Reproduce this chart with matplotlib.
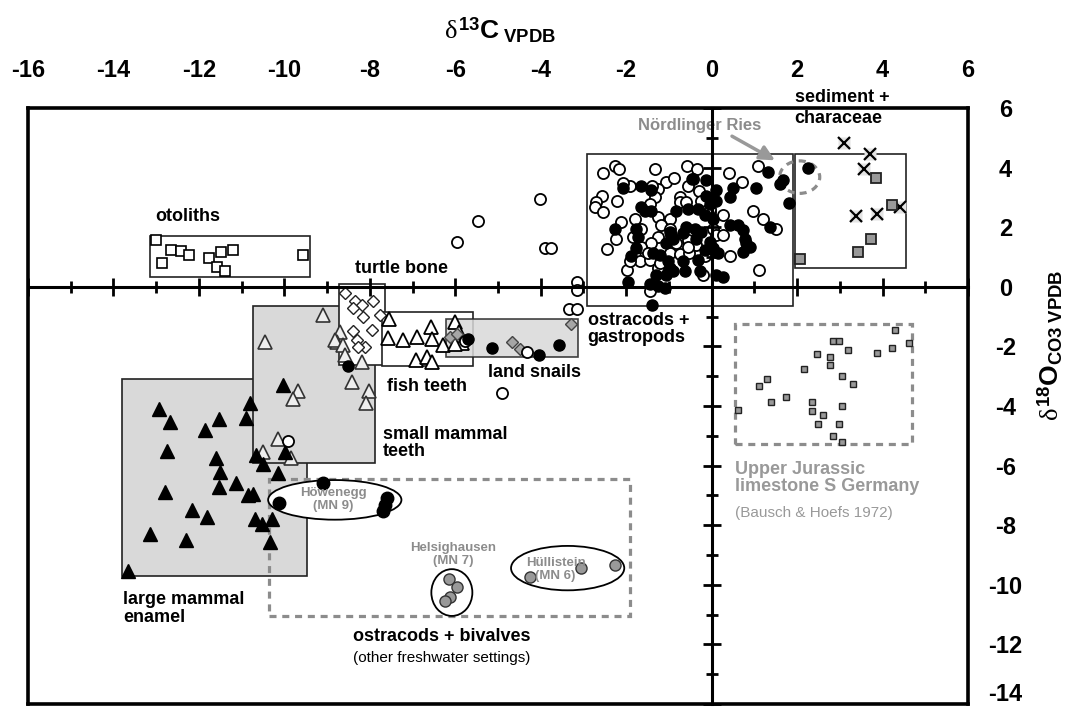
import numpy as np
import matplotlib
matplotlib.use("Agg")
import matplotlib.pyplot as plt
from matplotlib.patches import Rectangle, Ellipse
from matplotlib.ticker import MultipleLocator

plt.rcParams['font.family'] = ['Liberation Sans', 'DejaVu Sans']
plt.rcParams['axes.unicode_minus'] = False
plt.rcParams['mathtext.fontset'] = 'custom'
plt.rcParams['mathtext.rm'] = 'Liberation Sans:bold'
plt.rcParams['mathtext.bf'] = 'Liberation Sans:bold'
plt.rcParams['mathtext.it'] = 'Liberation Serif'

# ---- data (d13C, d18O) ----
otolith_x = [-13.0, -12.66, -12.42, -12.23, -12.87, -11.77, -11.49, -11.2, -11.58, -11.39, -9.57]
otolith_y = [1.56, 1.23, 1.19, 1.06, 0.79, 0.96, 1.16, 1.23, 0.66, 0.53, 1.06]

turtle_x = [-8.58, -8.35, -8.19, -7.93, -8.4, -8.16, -7.77, -7.95, -8.4, -8.3, -8.12, -8.28]
turtle_y = [-0.2, -0.46, -0.6, -0.46, -0.7, -1.03, -0.93, -1.46, -1.49, -1.79, -2.02, -2.02]

fish_x = [-7.56, -7.58, -7.23, -6.9, -6.57, -6.55, -6.29, -6.01, -5.92, -5.85, -6.92, -6.67, -6.55, -6.01]
fish_y = [-1.09, -1.72, -1.79, -1.69, -1.36, -1.75, -1.95, -1.19, -1.52, -1.89, -2.45, -2.35, -2.52, -1.92]

small_mammal_x = [-9.1, -10.46, -8.7, -8.77, -8.82, -8.63, -8.58, -8.19, -8.42, -8.02, -8.09,
                  -9.68, -9.8, -10.15, -10.5, -9.85]
small_mammal_y = [-0.93, -1.85, -1.52, -1.85, -1.79, -1.95, -2.28, -2.52, -3.18, -3.51, -3.91,
                  -3.51, -3.77, -5.1, -5.56, -5.76]

large_mammal_x = [-12.94, -12.68, -12.75, -12.8, -13.15, -12.3, -12.16, -11.81, -11.86, -11.53,
                  -11.6, -11.51, -11.53, -11.13, -10.9, -10.81, -10.85, -10.74, -10.67, -10.5,
                  -10.15, -10.69, -10.53, -10.29, -10.34, -13.66, -10.04, -9.99]
large_mammal_y = [-4.11, -4.54, -5.5, -6.89, -8.31, -8.48, -7.48, -7.72, -4.8, -4.44,
                  -5.76, -6.23, -6.72, -6.59, -4.4, -3.91, -6.99, -6.95, -5.66, -5.93,
                  -6.26, -7.78, -7.95, -7.78, -8.58, -9.54, -3.31, -5.56]

snail_dia_x = [-4.68, -4.49, -3.3, -6.13, -5.95]
snail_dia_y = [-1.85, -2.08, -1.26, -1.69, -1.6]

# ostracods + gastropods (and scattered freshwater carbonates)
open_circ_x = [-2.54, -2.27, -2.17, -1.33, -0.58, -0.34, 0.41, 0.71, 1.08, -1.06, -0.87, -1.92, -2.07,
               -2.56, -2.7, -2.74, -2.54, -2.21, -1.26, -1.33, -0.44, -0.55, -0.3, -0.75, -0.75, -0.61,
               0.27, 0.97, 1.2, 1.5, -2.46, -2.11, -1.8, -1.84, -1.65, -1.26, -0.98, -1.18, -1.26,
               -1.41, -1.65, -1.8, -1.68, -1.98, -1.45, -1.26, -0.98, -0.83, -0.55, -0.36, -0.75,
               -0.53, -0.16, -0.2, 0.03, 0.11, 0.27, 0.42, -1.45, 1.12, -0.05, -0.94, -0.05, -0.24,
               -1.92, -1.22, -1.49, -0.55, -0.98, -2.25, -1.39, -1.45,
               -4.02, -5.47, -5.96, -3.9, -3.75, -3.16, -3.16, -3.35, -3.16, -4.91,
               -4.33, -5.78, -9.92]
open_circ_y = [3.81, 4.05, 3.94, 3.96, 4.05, 3.96, 3.83, 3.52, 4.05, 3.52, 3.66, 3.39, 3.5,
               3.06, 2.86, 2.67, 2.51, 2.89, 3.28, 3.0, 3.61, 3.39, 3.22, 3.0, 2.84, 2.84,
               2.42, 2.56, 2.28, 1.95, 1.27, 2.17, 2.26, 1.68, 1.95, 2.34, 2.28, 2.06, 1.68,
               1.46, 1.35, 1.02, 0.85, 0.57, 0.9, 0.63, 1.13, 1.46, 1.57, 1.4, 1.09,
               1.13, 1.02, 0.41, 1.95, 1.73, 1.73, 1.02, -0.14, 0.57, 2.51, 1.73, 2.62, 2.89,
               0.85, 0.8, 1.13, 1.35, 1.95, 1.62, 3.37, 2.78,
               2.95, 2.22, 1.49, 1.29, 1.29, 0.17, -0.1, -0.76, -0.76, -3.58,
               -2.18, -1.82, -5.17]

filled_circ_x = [-2.07, -1.65, -1.43, -0.45, -0.13, 0.11, 0.5, 0.44, 0.11, -0.05, 1.04, -1.65, -1.57,
                 -1.41, -0.83, -0.55, -0.32, -0.16, 0.03, 0.42, 0.62, 0.73, 0.77, 0.81, 0.73, 0.89,
                 -0.4, -0.24, -0.59, -0.98, -0.9, -1.06, -0.67, -0.36, -0.05, 0.03, 0.15, -0.16,
                 -0.32, -0.67, -1.02, -1.22, -1.37, -1.76, -1.88, -0.9, -0.63, -0.28, 0.11, 0.27,
                 -1.26, -1.1, -1.45, -1.96, -1.39, -2.27, -1.72, -1.76, -1.3, -1.06, -0.13, -0.98,
                 -5.15, -4.05, -3.58, -5.71, -8.51]
filled_circ_y = [3.3, 3.39, 3.25, 3.63, 3.59, 3.26, 3.33, 3.0, 2.89, 2.78, 3.33, 2.67, 2.56,
                 2.56, 2.56, 2.62, 2.62, 2.4, 2.28, 2.06, 2.09, 1.9, 1.62, 1.46, 1.18, 1.35,
                 1.95, 1.84, 2.01, 1.84, 1.62, 1.46, 1.79, 1.62, 1.51, 1.29, 1.13, 1.24,
                 0.91, 0.85, 0.85, 1.07, 1.13, 1.29, 1.02, 0.52, 0.52, 0.52, 0.41, 0.32,
                 0.02, -0.03, 0.08, 0.17, -0.6, 1.95, 1.68, 1.95, 0.41, 0.41, 3.06, 0.63,
                 -2.05, -2.28, -1.95, -1.75, -2.65]

ries_x = [2.25, 1.66, 1.61, 1.33, 1.82, 1.36]
ries_y = [3.97, 3.6, 3.44, 3.84, 2.81, 1.99]

sediment_x = [3.09, 3.7, 3.56, 4.4, 3.39, 3.86]
sediment_y = [4.83, 4.44, 3.94, 2.68, 2.38, 2.45]
characeae_x = [3.84, 4.23, 3.74, 3.42, 2.06]
characeae_y = [3.64, 2.75, 1.59, 1.16, 0.93]

jurassic_x = [4.28, 2.83, 2.99, 4.61, 3.18, 4.23, 3.88, 2.46, 2.78, 2.78, 2.15, 3.06, 1.29,
              1.1, 3.32, 1.75, 1.38, 2.34, 3.06, 0.61, 2.34, 2.6, 2.48, 2.97, 2.85, 3.06]
jurassic_y = [-1.46, -1.82, -1.82, -1.89, -2.12, -2.05, -2.22, -2.25, -2.35, -2.62, -2.75, -3.01, -3.11,
              -3.34, -3.25, -3.71, -3.87, -3.87, -4.01, -4.14, -4.17, -4.3, -4.6, -4.6, -5.0, -5.2]

howenegg_x = [-9.1, -10.13, -7.6, -7.65, -7.7]
howenegg_y = [-6.59, -7.25, -7.09, -7.32, -7.52]
helsig_x = [-6.15, -5.96, -6.13, -6.25]
helsig_y = [-9.8, -10.07, -10.4, -10.53]
hullistein_x = [-4.26, -3.06, -2.27]
hullistein_y = [-9.74, -9.44, -9.34]

x_ticks = np.arange(-16, 7, 2)
y_ticks = np.arange(-14, 7, 2)

# ---- figure ----
fig = plt.figure(figsize=(10.76, 7.14), dpi=100)
pos = [28 / 1076, 1 - 704 / 714, 940 / 1076, 596 / 714]
ax = fig.add_axes(pos)
ax.set_xlim(-16, 6)
ax.set_ylim(-14, 6)
ax.xaxis.tick_top()
ax.yaxis.tick_right()
ax.set_xticks(x_ticks)
ax.set_yticks(y_ticks)
# lowest y label is drawn separately so it stays inside the picture
ax.set_yticklabels(['' if v == -14 else str(v) for v in y_ticks])
ax.tick_params(axis='x', length=0, pad=19, labelsize=17)
ax.tick_params(axis='y', length=0, pad=27, labelsize=17)
for lab in ax.get_xticklabels() + ax.get_yticklabels():
    lab.set_fontweight('bold')
for lab in ax.get_yticklabels():
    lab.set_horizontalalignment('center')
ax.text(1005 / 1076, 8 / 714, str(y_ticks[0]), transform=fig.transFigure, ha='center',
        va='bottom', fontsize=17, fontweight='bold')
for sp in ax.spines.values():
    sp.set_linewidth(2.6)

grey = '#d9d9d9'
box_kw = dict(linewidth=1.2, edgecolor='#222222')
# shaded / open boxes
ax.add_patch(Rectangle((-13.8, -9.7), 4.33, 6.59, facecolor=grey, zorder=1, **box_kw))
ax.add_patch(Rectangle((-10.74, -5.9), 2.86, 5.24, facecolor=grey, zorder=1.1, **box_kw))
ax.add_patch(Rectangle((-8.73, -2.62), 1.08, 2.72, facecolor='white', zorder=1.2, **box_kw))
ax.add_patch(Rectangle((-7.72, -2.65), 2.13, 1.79, facecolor='white', zorder=1.3, **box_kw))
ax.add_patch(Rectangle((-6.22, -2.35), 3.09, 1.26, facecolor=grey, alpha=0.85, zorder=1.4, **box_kw))
ax.add_patch(Rectangle((-13.15, 0.33), 3.75, 1.39, facecolor='white', zorder=1.2, **box_kw))
ax.add_patch(Rectangle((-2.92, -0.66), 4.82, 5.13, facecolor='white', zorder=1.2, **box_kw))
ax.add_patch(Rectangle((1.96, 0.63), 2.6, 3.84, facecolor='white', zorder=1.2, **box_kw))

dash_kw = dict(fill=False, edgecolor='#8c8c8c', linewidth=2.3, linestyle=(0, (2.2, 1.8)), zorder=1.6)
ax.add_patch(Rectangle((-10.36, -11.06), 8.44, 4.6, **dash_kw))
ax.add_patch(Rectangle((0.54, -5.26), 4.16, 4.0, **dash_kw))
ax.add_patch(Ellipse((2.06, 3.68), 0.94, 1.09, **dash_kw))

ell_kw = dict(facecolor='white', edgecolor='black', linewidth=1.3, zorder=1.7)
ax.add_patch(Ellipse((-8.82, -7.15), 3.12, 1.33, **ell_kw))
ax.add_patch(Ellipse((-6.08, -10.26), 0.96, 1.57, **ell_kw))
ax.add_patch(Ellipse((-3.37, -9.44), 2.65, 1.49, **ell_kw))

# ---- markers ----
def pts(x, y, **kw):
    ax.plot(x, y, linestyle='none', zorder=3, **kw)

pts(otolith_x, otolith_y, marker='s', ms=7.5, mfc='white', mec='black', mew=1.2)
pts(turtle_x, turtle_y, marker='D', ms=6.5, mfc='white', mec='#222222', mew=1.0)
pts(small_mammal_x, small_mammal_y, marker='^', ms=9.5, mfc='#eeeeee', mec='#333333', mew=1.2)
pts(fish_x, fish_y, marker='^', ms=9.5, mfc='white', mec='black', mew=1.3)
pts(large_mammal_x, large_mammal_y, marker='^', ms=10, mfc='black', mec='black')
pts(snail_dia_x, snail_dia_y, marker='D', ms=6.5, mfc='#a6a6a6', mec='#444444', mew=1.0)
pts(open_circ_x, open_circ_y, marker='o', ms=8, mfc='white', mec='black', mew=1.3)
pts(filled_circ_x, filled_circ_y, marker='o', ms=8, mfc='black', mec='black')
pts(ries_x, ries_y, marker='o', ms=8, mfc='black', mec='black')
pts(sediment_x, sediment_y, marker='s', ms=9, mfc='#e3e3e3', mec='none')
pts(sediment_x, sediment_y, marker='x', ms=8, mec='black', mew=1.6)
pts(characeae_x, characeae_y, marker='s', ms=7.5, mfc='#999999', mec='#222222', mew=1.3)
pts(jurassic_x, jurassic_y, marker='s', ms=4.5, mfc='#999999', mec='#222222', mew=1.0)
pts(howenegg_x, howenegg_y, marker='o', ms=9, mfc='black', mec='black')
pts(helsig_x, helsig_y, marker='o', ms=8, mfc='#999999', mec='#333333', mew=1.0)
pts(hullistein_x, hullistein_y, marker='o', ms=8, mfc='#999999', mec='#333333', mew=1.0)

# ---- labels ----
lab_kw = dict(fontsize=13, fontweight='bold', color='black', zorder=4)
ax.text(-12.26, 2.35, 'otoliths', ha='center', va='center', **lab_kw)
ax.text(-7.25, 0.63, 'turtle bone', ha='center', va='center', **lab_kw)
ax.text(-6.67, -3.34, 'fish teeth', ha='center', va='center', **lab_kw)
ax.text(-4.14, -2.88, 'land snails', ha='center', va='center', **lab_kw)
ax.text(-2.9, -1.42, 'ostracods +\ngastropods', ha='left', va='center', linespacing=1.0, **lab_kw)
ax.text(-7.7, -5.24, 'small mammal\nteeth', ha='left', va='center', linespacing=1.05, **lab_kw)
ax.text(-13.78, -10.8, 'large mammal\nenamel', ha='left', va='center', linespacing=1.05, **lab_kw)
ax.text(-6.32, -11.72, 'ostracods + bivalves', ha='center', va='center', **lab_kw)
ax.text(-6.32, -12.45, '(other freshwater settings)', ha='center', va='center', fontsize=11, zorder=4)
ax.text(1.94, 6.0, 'sediment +\ncharaceae', ha='left', va='center', linespacing=1.35,
        clip_on=False, **lab_kw)

grey_txt = '#8c8c8c'
ax.text(-0.28, 5.4, 'Nördlinger Ries', ha='center', va='center', fontsize=12,
        fontweight='bold', color=grey_txt, zorder=4)
ax.annotate('', xy=(1.54, 4.2), xytext=(0.42, 5.1),
            arrowprops=dict(arrowstyle='-|>', color='#999999', lw=2.5, mutation_scale=22),
            zorder=4)
ax.text(0.54, -6.4, 'Upper Jurassic\nlimestone S Germany', ha='left', va='center',
        fontsize=13, fontweight='bold', color='#999999', linespacing=1.0, zorder=4)
ax.text(0.54, -7.6, '(Bausch & Hoefs 1972)', ha='left', va='center', fontsize=11,
        color='#999999', zorder=4)

small_kw = dict(fontsize=9.5, fontweight='bold', color=grey_txt, ha='center', va='center',
                linespacing=1.1, zorder=4)
ax.text(-8.86, -7.15, 'Höwenegg\n(MN 9)', **small_kw)
ax.text(-6.05, -8.97, 'Helsighausen\n(MN 7)', **small_kw)
ax.text(-3.65, -9.5, 'Hüllistein\n(MN 6)', **small_kw)

# axis titles
fig.text(500 / 1076, 1 - 30 / 714, r'$\delta^{13}$C$_{\rm\ VPDB}$', ha='center', va='center',
         fontsize=19, fontweight='bold')
fig.text(1050 / 1076, 1 - 345 / 714, r'$\delta^{18}$O$_{\rm CO3\ VPDB}$', ha='center',
         va='center', rotation=90, fontsize=19, fontweight='bold')

# ---- crossing axes through the origin ----
ax2 = fig.add_axes(pos)
ax2.patch.set_visible(False)
ax2.set_xlim(-16, 6)
ax2.set_ylim(-14, 6)
for side in ['top', 'right']:
    ax2.spines[side].set_visible(False)
ax2.spines['left'].set_position(('data', 0))
ax2.spines['bottom'].set_position(('data', 0))
ax2.spines['left'].set_linewidth(2.2)
ax2.spines['bottom'].set_linewidth(2.2)
ax2.xaxis.set_major_locator(MultipleLocator(2))
ax2.xaxis.set_minor_locator(MultipleLocator(1))
ax2.yaxis.set_major_locator(MultipleLocator(2))
ax2.yaxis.set_minor_locator(MultipleLocator(1))
ax2.tick_params(which='both', direction='inout', width=2, labelleft=False, labelbottom=False)
ax2.tick_params(which='major', length=13)
ax2.tick_params(which='minor', length=9)

fig.savefig('out.png', dpi=100)
